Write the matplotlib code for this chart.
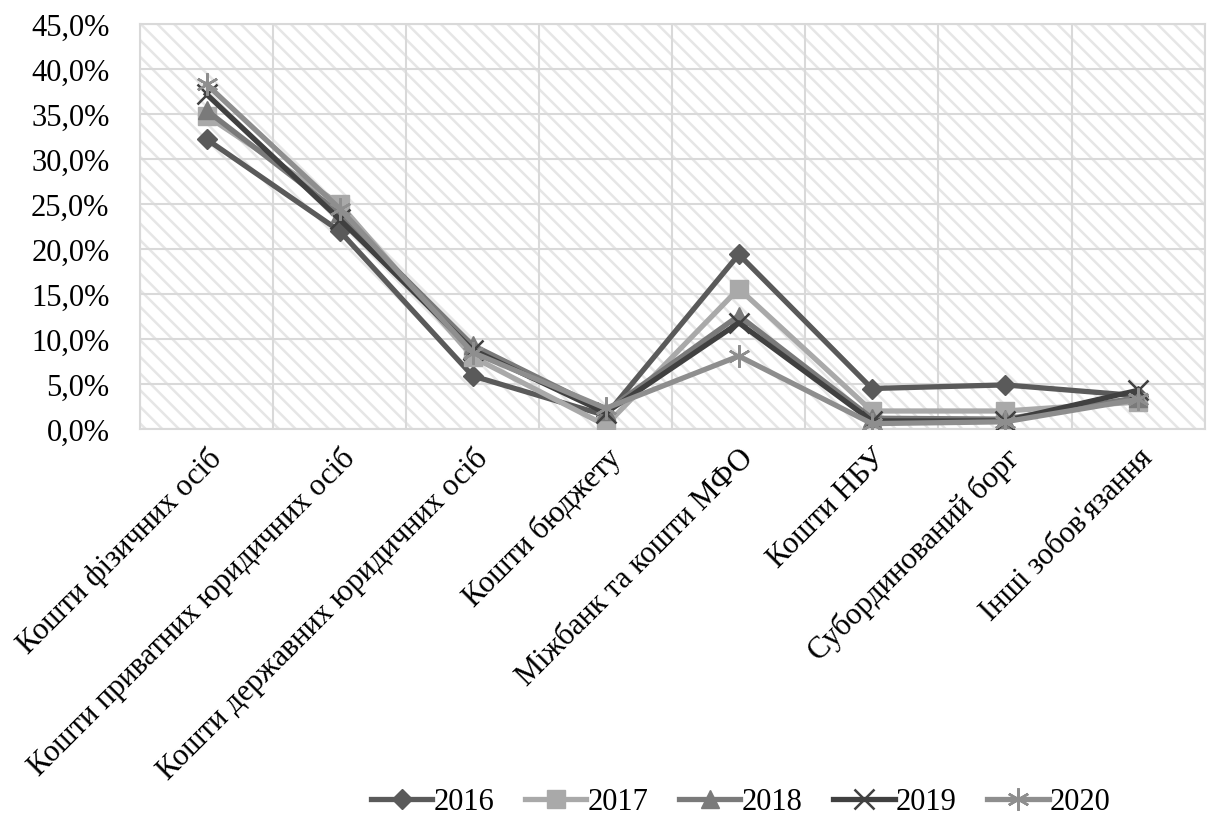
import matplotlib
matplotlib.use("Agg")
import matplotlib.pyplot as plt
from matplotlib.patches import Rectangle
from matplotlib.ticker import FuncFormatter, MultipleLocator

categories = [
    "Кошти фізичних осіб",
    "Кошти приватних юридичних осіб",
    "Кошти державних юридичних осіб",
    "Кошти бюджету",
    "Міжбанк та кошти МФО",
    "Кошти НБУ",
    "Субординований борг",
    "Інші зобов'язання",
]

v2016 = [32.2, 22.0, 5.9, 1.5, 19.4, 4.5, 4.9, 3.7]
v2017 = [34.8, 25.0, 8.0, 0.4, 15.6, 2.0, 2.0, 3.0]
v2018 = [35.4, 24.0, 9.3, 2.0, 12.6, 1.2, 1.1, 3.5]
v2019 = [37.2, 23.3, 8.8, 1.8, 11.8, 0.9, 0.9, 4.3]
v2020 = [38.3, 24.5, 8.5, 2.3, 8.1, 0.6, 0.8, 3.3]

years = ["2016", "2017", "2018", "2019", "2020"]
series = [v2016, v2017, v2018, v2019, v2020]
colors = ["#5a5a5a", "#a9a9a9", "#7a7a7a", "#404040", "#8e8e8e"]
markers = ["D", "s", "^", "x", (6, 2, 0)]
msizes = [10, 13, 13, 14, 16]

plt.rcParams["font.family"] = ["Liberation Serif", "DejaVu Serif"]
plt.rcParams["hatch.linewidth"] = 1.8
plt.rcParams["hatch.color"] = "#e6e6e6"

FS = 22

fig = plt.figure(figsize=(12.07, 8.20), dpi=100)
ax = fig.add_axes([0.116, 0.4756, 0.882, 0.4939])

# hatched plot background
ax.add_patch(Rectangle((0, 0), 1, 1, transform=ax.transAxes, facecolor="white",
                       edgecolor="#e6e6e6", hatch="\\\\", linewidth=0, zorder=0))

x = list(range(len(categories)))
for vals, yr, c, m, ms in zip(series, years, colors, markers, msizes):
    thin = m == "x" or isinstance(m, tuple)
    ax.plot(x, vals, color=c, linewidth=3.8, marker=m, markersize=ms,
            markerfacecolor=c, markeredgecolor=c, markeredgewidth=1.8 if thin else 1,
            label=yr, zorder=3)

ax.set_xlim(-0.5, len(categories) - 0.5)
ax.set_ylim(0, 45)
ax.yaxis.set_major_locator(MultipleLocator(5))
ax.yaxis.set_major_formatter(FuncFormatter(lambda v, p: f"{v:.1f}%".replace(".", ",")))

ax.set_xticks(x)
ax.set_xticklabels(categories, rotation=45, ha="right", rotation_mode="anchor", fontsize=FS)
ax.set_xticks([i + 0.5 for i in range(-1, len(categories))], minor=True)
ax.tick_params(axis="both", which="both", length=0, labelsize=FS)
ax.tick_params(axis="x", pad=10)
ax.tick_params(axis="y", pad=22)

ax.grid(True, which="major", axis="y", color="#d9d9d9", linewidth=1.5, zorder=1)
ax.grid(True, which="minor", axis="x", color="#d9d9d9", linewidth=1.5, zorder=1)
ax.set_axisbelow(True)
for s in ax.spines.values():
    s.set_color("#d9d9d9")
    s.set_linewidth(1.5)

leg = fig.legend(loc="center", bbox_to_anchor=(0.614, 0.021), ncol=5, frameon=False,
                 fontsize=FS, handlelength=2.0, columnspacing=1.0, handletextpad=0.05)

fig.savefig("out.png", dpi=100)
